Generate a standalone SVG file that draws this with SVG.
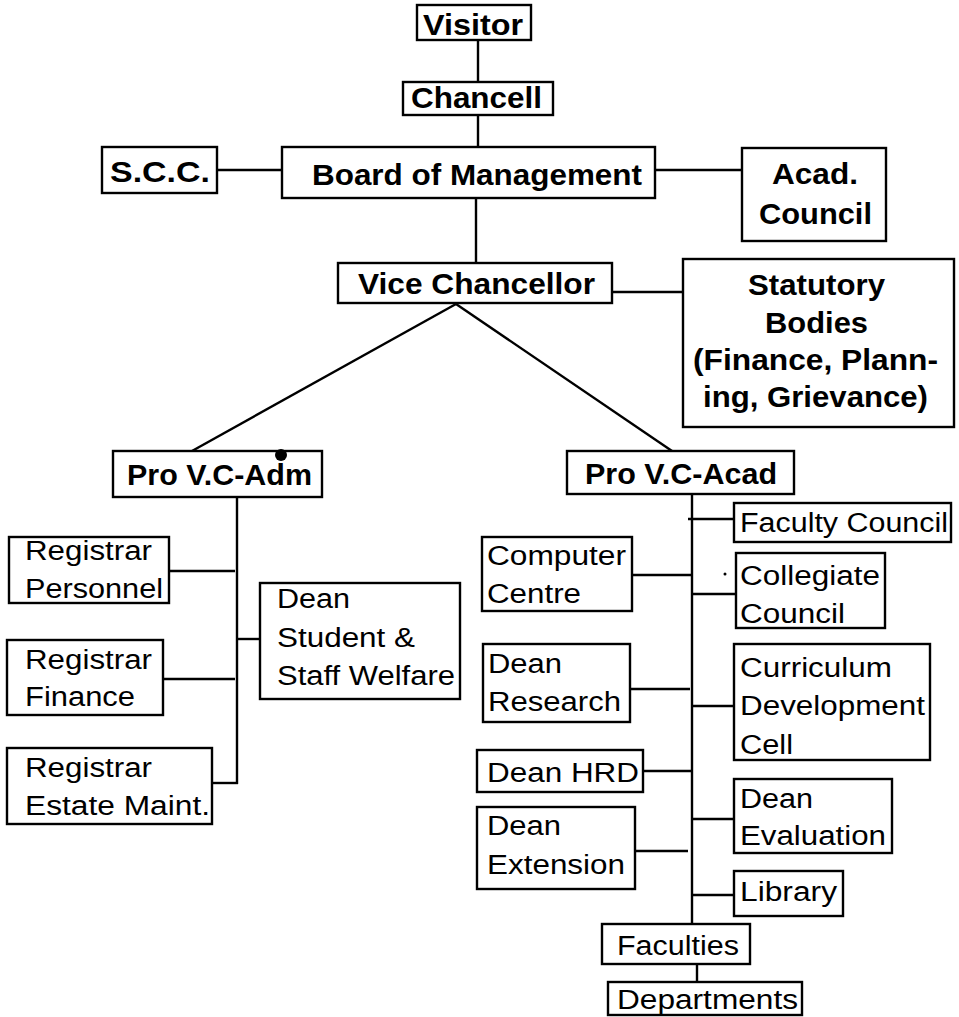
<svg xmlns="http://www.w3.org/2000/svg" width="959" height="1017" viewBox="0 0 959 1017">
<style>
rect{fill:#fff;stroke:#000;stroke-width:2.4}
.c line{stroke:#000;stroke-width:2.4}
text{font-family:"Liberation Sans",Arial,sans-serif;fill:#000}
.b{font-weight:bold;font-size:30px}
.r{font-size:27px}
</style>
<g class="c" id="connectors">
<line x1="478" y1="40" x2="478" y2="82"/>
<line x1="478" y1="115" x2="478" y2="147"/>
<line x1="217" y1="170" x2="282" y2="170"/>
<line x1="655" y1="170" x2="742" y2="170"/>
<line x1="476" y1="198" x2="476" y2="263"/>
<line x1="612" y1="292" x2="683" y2="292"/>
<line x1="456" y1="304" x2="192" y2="451"/>
<line x1="456" y1="304" x2="672" y2="451"/>
<line x1="237" y1="497" x2="237" y2="784"/>
<line x1="169" y1="571" x2="235" y2="571"/>
<line x1="237" y1="639" x2="260" y2="639"/>
<line x1="163" y1="679" x2="235" y2="679"/>
<line x1="212" y1="783" x2="238" y2="783"/>
<line x1="692" y1="494" x2="692" y2="924"/>
<line x1="688" y1="519" x2="734" y2="519"/>
<line x1="632" y1="575" x2="692" y2="575"/>
<line x1="692" y1="594" x2="736" y2="594"/>
<line x1="630" y1="689" x2="690" y2="689"/>
<line x1="692" y1="706" x2="734" y2="706"/>
<line x1="643" y1="771" x2="692" y2="771"/>
<line x1="635" y1="851" x2="688" y2="851"/>
<line x1="692" y1="819" x2="734" y2="819"/>
<line x1="692" y1="895" x2="734" y2="895"/>
<line x1="697" y1="964" x2="697" y2="982"/>
</g>
<g id="visitor"><rect x="417" y="5" width="114" height="35"/><text class="b" x="423" y="35" textLength="100" lengthAdjust="spacingAndGlyphs">Visitor</text></g>
<g id="chancell"><rect x="403" y="82" width="150" height="33"/><text class="b" x="411" y="108" textLength="131" lengthAdjust="spacingAndGlyphs">Chancell</text></g>
<g id="scc"><rect x="102" y="147" width="115" height="46"/><text class="b" x="110" y="182" textLength="100" lengthAdjust="spacingAndGlyphs">S.C.C.</text></g>
<g id="board"><rect x="282" y="147" width="373" height="51"/><text class="b" x="312" y="185" textLength="330" lengthAdjust="spacingAndGlyphs">Board of Management</text></g>
<g id="acad-council"><rect x="742" y="148" width="144" height="93"/><text class="b" x="772" y="184" textLength="86" lengthAdjust="spacingAndGlyphs">Acad.</text><text class="b" x="759" y="224" textLength="113" lengthAdjust="spacingAndGlyphs">Council</text></g>
<g id="vice-chancellor"><rect x="338" y="263" width="274" height="40"/><text class="b" x="358" y="294" textLength="237" lengthAdjust="spacingAndGlyphs">Vice Chancellor</text></g>
<g id="statutory"><rect x="683" y="259" width="271" height="168"/><text class="b" x="748" y="295" textLength="137" lengthAdjust="spacingAndGlyphs">Statutory</text><text class="b" x="765" y="333" textLength="103" lengthAdjust="spacingAndGlyphs">Bodies</text><text class="b" x="693" y="370" textLength="245" lengthAdjust="spacingAndGlyphs">(Finance, Plann-</text><text class="b" x="703" y="407" textLength="225" lengthAdjust="spacingAndGlyphs">ing, Grievance)</text></g>
<g id="pro-vc-adm"><rect x="113" y="451" width="209" height="46"/><text class="b" x="127" y="485" textLength="185" lengthAdjust="spacingAndGlyphs">Pro V.C-Adm</text><circle cx="281" cy="455" r="6" fill="#000"/></g>
<g id="pro-vc-acad"><rect x="567" y="451" width="227" height="43"/><text class="b" x="585" y="484" textLength="192" lengthAdjust="spacingAndGlyphs">Pro V.C-Acad</text></g>
<g id="reg-personnel"><rect x="9" y="537" width="160" height="66"/><text class="r" x="25" y="560" textLength="127" lengthAdjust="spacingAndGlyphs">Registrar</text><text class="r" x="25" y="598" textLength="138" lengthAdjust="spacingAndGlyphs">Personnel</text></g>
<g id="dean-welfare"><rect x="260" y="583" width="200" height="116"/><text class="r" x="277" y="608" textLength="73" lengthAdjust="spacingAndGlyphs">Dean</text><text class="r" x="277" y="647" textLength="138" lengthAdjust="spacingAndGlyphs">Student &amp;</text><text class="r" x="277" y="685" textLength="178" lengthAdjust="spacingAndGlyphs">Staff Welfare</text></g>
<g id="reg-finance"><rect x="7" y="640" width="156" height="75"/><text class="r" x="25" y="669" textLength="127" lengthAdjust="spacingAndGlyphs">Registrar</text><text class="r" x="25" y="706" textLength="110" lengthAdjust="spacingAndGlyphs">Finance</text></g>
<g id="reg-estate"><rect x="7" y="748" width="205" height="76"/><text class="r" x="25" y="777" textLength="127" lengthAdjust="spacingAndGlyphs">Registrar</text><text class="r" x="25" y="815" textLength="185" lengthAdjust="spacingAndGlyphs">Estate Maint.</text></g>
<g id="faculty-council"><rect x="734" y="503" width="217" height="39"/><text class="r" x="740" y="532" textLength="208" lengthAdjust="spacingAndGlyphs">Faculty Council</text></g>
<g id="computer-centre"><rect x="482" y="537" width="150" height="74"/><text class="r" x="487" y="565" textLength="139" lengthAdjust="spacingAndGlyphs">Computer</text><text class="r" x="487" y="603" textLength="94" lengthAdjust="spacingAndGlyphs">Centre</text></g>
<g id="collegiate-council"><rect x="736" y="553" width="149" height="75"/><text class="r" x="740" y="585" textLength="140" lengthAdjust="spacingAndGlyphs">Collegiate</text><text class="r" x="740" y="623" textLength="105" lengthAdjust="spacingAndGlyphs">Council</text><circle cx="725" cy="574" r="1.5" fill="#000"/></g>
<g id="dean-research"><rect x="483" y="644" width="147" height="78"/><text class="r" x="488" y="673" textLength="74" lengthAdjust="spacingAndGlyphs">Dean</text><text class="r" x="488" y="711" textLength="133" lengthAdjust="spacingAndGlyphs">Research</text></g>
<g id="curriculum"><rect x="734" y="644" width="196" height="116"/><text class="r" x="740" y="677" textLength="152" lengthAdjust="spacingAndGlyphs">Curriculum</text><text class="r" x="740" y="715" textLength="185" lengthAdjust="spacingAndGlyphs">Development</text><text class="r" x="740" y="754" textLength="53" lengthAdjust="spacingAndGlyphs">Cell</text></g>
<g id="dean-hrd"><rect x="477" y="750" width="166" height="42"/><text class="r" x="487" y="782" textLength="152" lengthAdjust="spacingAndGlyphs">Dean HRD</text></g>
<g id="dean-extension"><rect x="477" y="807" width="158" height="82"/><text class="r" x="487" y="835" textLength="74" lengthAdjust="spacingAndGlyphs">Dean</text><text class="r" x="487" y="874" textLength="138" lengthAdjust="spacingAndGlyphs">Extension</text></g>
<g id="dean-evaluation"><rect x="734" y="779" width="158" height="74"/><text class="r" x="740" y="808" textLength="73" lengthAdjust="spacingAndGlyphs">Dean</text><text class="r" x="740" y="845" textLength="146" lengthAdjust="spacingAndGlyphs">Evaluation</text></g>
<g id="library"><rect x="734" y="871" width="109" height="45"/><text class="r" x="740" y="901" textLength="97" lengthAdjust="spacingAndGlyphs">Library</text></g>
<g id="faculties"><rect x="602" y="924" width="148" height="40"/><text class="r" x="617" y="955" textLength="122" lengthAdjust="spacingAndGlyphs">Faculties</text></g>
<g id="departments"><rect x="608" y="982" width="194" height="33"/><text class="r" x="617" y="1009" textLength="181" lengthAdjust="spacingAndGlyphs">Departments</text></g>
</svg>
